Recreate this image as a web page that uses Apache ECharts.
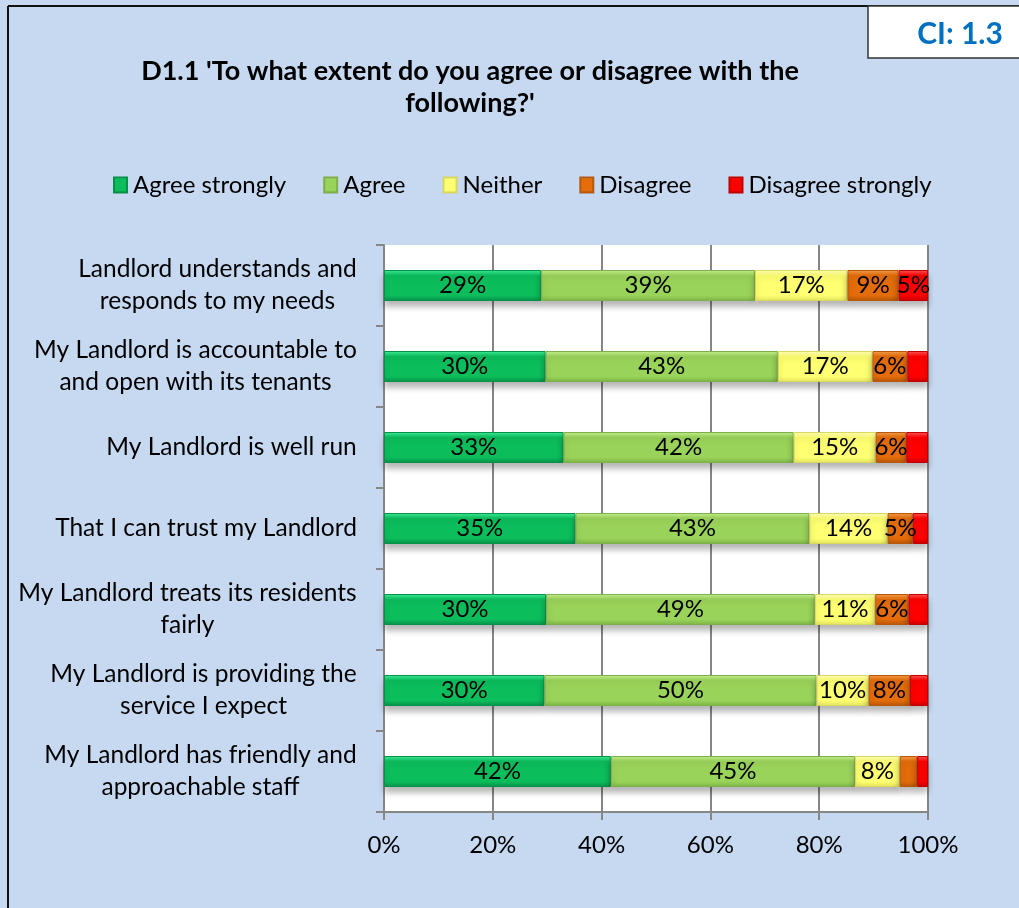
<!DOCTYPE html>
<html>
<head>
<meta charset="utf-8">
<title>D1.1 Agreement</title>
<script src="https://cdn.jsdelivr.net/npm/echarts@6/dist/echarts.min.js"></script>
<style>
  html, body { margin: 0; padding: 0; background: #c6d9f1; }
  #chart { width: 1019px; height: 908px; }
</style>
</head>
<body>
<div id="chart"></div>
<script>
// Statements (top to bottom) and response shares in percent
const categories = [
  'Landlord understands and\nresponds to my needs',
  'My Landlord is accountable to\nand open with its tenants',
  'My Landlord is well run',
  'That I can trust my Landlord',
  'My Landlord treats its residents\nfairly',
  'My Landlord is providing the\nservice I expect',
  'My Landlord has friendly and\napproachable staff'
];
const agreeStrongly    = [28.9, 29.7, 33.0, 35.2, 29.8, 29.5, 41.7];
const agree            = [39.3, 42.7, 42.3, 43.0, 49.4, 50.0, 44.9];
const neither          = [17.0, 17.4, 15.1, 14.4, 11.1,  9.6,  8.2];
const disagree         = [ 9.4,  6.4,  5.6,  4.6,  6.1,  7.6,  3.2];
const disagreeStrongly = [ 5.4,  3.8,  4.0,  2.8,  3.6,  3.3,  2.0];
const seriesNames = ['Agree strongly', 'Agree', 'Neither', 'Disagree', 'Disagree strongly'];
const xTicks = [0, 20, 40, 60, 80, 100];

const FONT = 'Lato, "Open Sans", sans-serif';
const LABEL_SIZE = 24.5;

// bevel-like fill: light top edge, flat body, darker bottom edge
function bevel(top, base, bottom) {
  return new echarts.graphic.LinearGradient(0, 0, 0, 1, [
    { offset: 0, color: top },
    { offset: 0.18, color: base },
    { offset: 0.82, color: base },
    { offset: 1, color: bottom }
  ]);
}
const fills = [
  { fill: bevel('#3ef09a', '#0cbd5c', '#07934a'), border: '#079048' },
  { fill: bevel('#c8f28e', '#9ad35a', '#7db545'), border: '#7fae4c' },
  { fill: bevel('#ffffb8', '#ffff72', '#e3e35e'), border: '#d8d860' },
  { fill: bevel('#f8a04a', '#e46c0a', '#b65608'), border: '#b45a10' },
  { fill: bevel('#ff5a5a', '#ff0000', '#c80000'), border: '#c00000' }
];
const seriesData = [agreeStrongly, agree, neither, disagree, disagreeStrongly];

// Multi-line category labels: lines centred on each other, block right-aligned to the axis.
const measureCtx = document.createElement('canvas').getContext('2d');
measureCtx.font = LABEL_SIZE + 'px ' + FONT;
const labelRich = {};
categories.forEach((c, i) => {
  const w = Math.ceil(Math.max(...c.split('\n').map(s => measureCtx.measureText(s).width)));
  labelRich['c' + i] = {
    width: w, align: 'center', fontFamily: FONT, fontSize: LABEL_SIZE,
    color: '#000', lineHeight: 32
  };
});

const chart = echarts.init(document.getElementById('chart'));
chart.setOption({
  backgroundColor: '#c6d9f1',
  animation: false,
  textStyle: { fontFamily: FONT },
  title: {
    text: "D1.1 'To what extent do you agree or disagree with the\nfollowing?'",
    left: 465,
    top: 50,
    textAlign: 'center',
    textStyle: { fontFamily: FONT, fontSize: 27, fontWeight: 'bold', color: '#000', lineHeight: 32 }
  },
  legend: {
    data: seriesNames,
    left: 108,
    top: 168,
    icon: 'rect',
    itemWidth: 13,
    itemHeight: 15,
    itemGap: 37,
    textStyle: { fontFamily: FONT, fontSize: 24, color: '#000', padding: [0, 0, 0, 1] }
  },
  grid: {
    left: 384, right: 91, top: 245, bottom: 96,
    show: true, backgroundColor: '#ffffff', borderWidth: 0
  },
  xAxis: {
    type: 'value',
    min: 0, max: 100, interval: 20,
    axisLine: { show: true, lineStyle: { color: '#868686', width: 2 } },
    axisTick: { show: true, length: 8, lineStyle: { color: '#868686', width: 2 } },
    splitLine: { show: true, lineStyle: { color: '#868686', width: 2 } },
    axisLabel: {
      fontFamily: FONT, fontSize: 24, color: '#000', margin: 21,
      formatter: v => xTicks.includes(v) ? v + '%' : ''
    }
  },
  yAxis: {
    type: 'category',
    inverse: true,
    data: categories,
    axisLine: { show: true, lineStyle: { color: '#868686', width: 2 } },
    axisTick: { show: true, length: 8, lineStyle: { color: '#868686', width: 2 } },
    axisLabel: {
      fontFamily: FONT, fontSize: LABEL_SIZE, color: '#000', margin: 27,
      lineHeight: 32, align: 'right',
      formatter: (v, i) => v.split('\n').map(s => '{c' + i + '|' + s + '}').join('\n'),
      rich: labelRich
    }
  },
  series: seriesNames.map((name, i) => ({
    name,
    type: 'bar',
    stack: 'total',
    barWidth: 31,
    data: seriesData[i],
    itemStyle: {
      color: fills[i].fill,
      borderColor: fills[i].border,
      borderWidth: 1,
      shadowColor: 'rgba(0,0,0,0.28)',
      shadowBlur: 6,
      shadowOffsetY: 5
    },
    label: {
      show: true,
      position: 'inside',
      fontFamily: FONT,
      fontSize: 24,
      color: '#000',
      formatter: p => Math.round(p.value) >= 5 ? Math.round(p.value) + '%' : ''
    }
  })),
  graphic: [
    // outer frame (top and left edges)
    { type: 'line', shape: { x1: 8, y1: 6, x2: 1019, y2: 6 }, style: { stroke: '#111', lineWidth: 2 }, z: 10 },
    { type: 'line', shape: { x1: 8, y1: 6, x2: 8, y2: 908 }, style: { stroke: '#111', lineWidth: 2 }, z: 10 },
    // confidence interval box
    { type: 'rect', shape: { x: 868, y: 6, width: 160, height: 52 },
      style: { fill: '#ffffff', stroke: '#333', lineWidth: 1.5 }, z: 10 },
    { type: 'text', x: 960, y: 34, z: 11,
      style: { text: 'CI: 1.3', fontFamily: FONT, fontSize: 30, fontWeight: 'bold',
               fill: '#0070c0', align: 'center', verticalAlign: 'middle' } }
  ]
});
</script>
</body>
</html>
